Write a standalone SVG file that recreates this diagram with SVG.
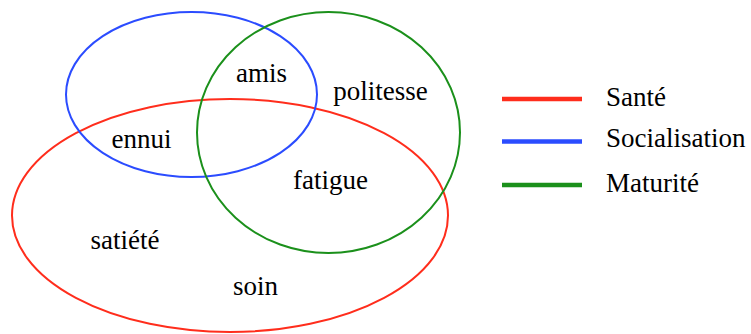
<svg xmlns="http://www.w3.org/2000/svg" width="751" height="334" viewBox="0 0 751 334">
<style>
text{font-family:"Liberation Serif","Times New Roman",serif;font-size:27px;fill:#000}
.c{text-anchor:middle}
.set{fill:none;stroke-width:2}
.leg{stroke-width:4.5}
.red{stroke:#ff2d1c}
.blue{stroke:#2b4cff}
.green{stroke:#1b901b}
</style>
<rect width="751" height="334" fill="#fff"/>
<g id="sante"><ellipse class="set red" cx="230" cy="215.5" rx="218" ry="116.5"/></g>
<g id="socialisation"><ellipse class="set blue" cx="191.5" cy="94.5" rx="125.5" ry="82.5"/></g>
<g id="maturite"><ellipse class="set green" cx="328.5" cy="132.5" rx="131.5" ry="120.5"/></g>
<g id="labels">
<text class="c" x="261.5" y="82">amis</text>
<text class="c" x="141.5" y="148">ennui</text>
<text class="c" x="380.5" y="100">politesse</text>
<text class="c" x="330.5" y="189">fatigue</text>
<text class="c" x="125" y="249">satiété</text>
<text class="c" x="255.5" y="295">soin</text>
</g>
<g id="legend">
<line class="leg red" x1="502" y1="99" x2="582" y2="99"/>
<line class="leg blue" x1="502" y1="141.5" x2="582" y2="141.5"/>
<line class="leg green" x1="502" y1="185" x2="582" y2="185"/>
<text x="606" y="106">Santé</text>
<text x="606" y="147">Socialisation</text>
<text x="606" y="192">Maturité</text>
</g>
</svg>
